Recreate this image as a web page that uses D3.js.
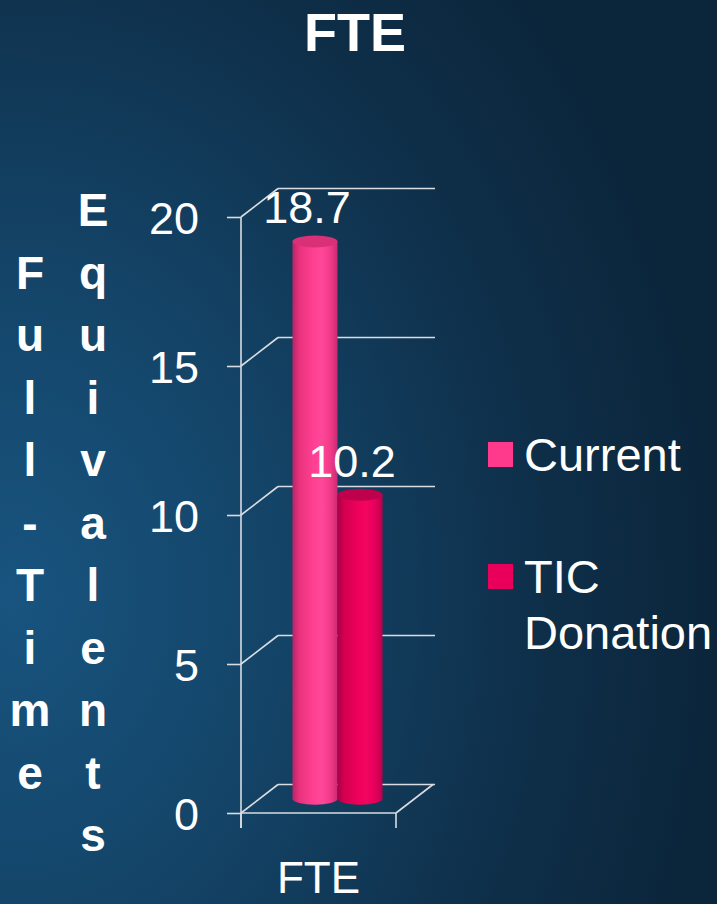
<!DOCTYPE html>
<html>
<head>
<meta charset="utf-8">
<script src="https://cdn.jsdelivr.net/npm/d3@7"></script>
<style>
  html, body { margin: 0; padding: 0; background: #0c2740; }
  svg { display: block; }
  text { font-family: "Liberation Sans", Arial, sans-serif; fill: #ffffff; }
</style>
</head>
<body>
<svg id="chart" width="717" height="904"></svg>
<script>
const chartTitle = "FTE";
const categories = ["FTE"];
const seriesNames = ["Current", "TIC Donation"];
const seriesValues = [18.7, 10.2];
const seriesColors = ["#ff3a8c", "#e8005a"];
const yTicks = [0, 5, 10, 15, 20];
const axisTitleCols = ["Full-Time", "Equivalents"];

const W = 717, H = 904;
const svg = d3.select("#chart");
const defs = svg.append("defs");

// background
const bg = defs.append("radialGradient").attr("id", "bg")
  .attr("cx", 0.02).attr("cy", 0.66).attr("r", 1.0)
  .attr("gradientUnits", "objectBoundingBox");
bg.append("stop").attr("offset", "0").attr("stop-color", "#18547f");
bg.append("stop").attr("offset", "0.35").attr("stop-color", "#144569");
bg.append("stop").attr("offset", "0.75").attr("stop-color", "#0e2e48");
bg.append("stop").attr("offset", "1").attr("stop-color", "#0b253a");
svg.append("rect").attr("width", W).attr("height", H).attr("fill", "url(#bg)");

// 3D geometry
const DX = 37, DY = -28.5;
const y = d3.scaleLinear().domain([0, 20]).range([813, 217]);
const x = d3.scaleBand().domain(categories).range([241, 396]);
const x1 = d3.scaleBand().domain(seriesNames)
  .range([x(categories[0]) + DX / 2 + 33, x(categories[0]) + x.bandwidth() + DX / 2 - 32]);

const grid = svg.append("g").attr("stroke", "#d9dde2").attr("stroke-width", 1.6).attr("fill", "none");
const xL = x.range()[0], xR = x.range()[1];
yTicks.forEach(t => {
  grid.append("line").attr("x1", xL + DX).attr("x2", xR + DX + 2)
    .attr("y1", y(t) + DY).attr("y2", y(t) + DY);
  grid.append("line").attr("x1", xL).attr("y1", y(t))
    .attr("x2", xL + DX).attr("y2", y(t) + DY);
});
grid.append("line").attr("x1", xL).attr("x2", xR).attr("y1", y(0)).attr("y2", y(0));
grid.append("line").attr("x1", xR).attr("y1", y(0)).attr("x2", xR + DX).attr("y2", y(0) + DY);
[xL, xR].forEach(v => grid.append("line").attr("x1", v).attr("x2", v).attr("y1", y(0)).attr("y2", y(0) + 15));

// y axis
const yAxis = d3.axisLeft(y).tickValues(yTicks).tickSize(14).tickSizeOuter(0).tickPadding(28);
const ax = svg.append("g").attr("transform", `translate(${xL},0)`).call(yAxis);
ax.select(".domain").remove();
ax.append("line").attr("x1", 0).attr("x2", 0).attr("y1", y(20)).attr("y2", y(0) + 15);
ax.selectAll("line").attr("stroke", "#d9dde2").attr("stroke-width", 1.6);
ax.selectAll("text").attr("font-size", 45).attr("fill", "#ffffff")
  .attr("font-family", "Liberation Sans, Arial, sans-serif").attr("dy", "0.36em");

// cylinder gradients
const shades = [
  ["#b82468", "#e8327e", "#ff3f91", "#ff4898", "#f03a88", "#c92b70"],
  ["#a80048", "#d4004f", "#ee005c", "#f2045f", "#e4005a", "#b8004c"]
];
seriesNames.forEach((s, i) => {
  const g = defs.append("linearGradient").attr("id", "cyl" + i).attr("x1", 0).attr("x2", 1).attr("y1", 0).attr("y2", 0);
  const offs = [0, 0.15, 0.45, 0.65, 0.85, 1];
  offs.forEach((o, k) => g.append("stop").attr("offset", o).attr("stop-color", shades[i][k]));
});
const topColors = ["#d93078", "#bf004c"];

const RY = 6;
const bars = svg.append("g");
seriesNames.forEach((s, i) => {
  const cx = x1(s) + x1.bandwidth() / 2;
  const rx = x1.bandwidth() / 2;
  const yTop = y(seriesValues[i]) + DY / 2;
  const yBot = y(0) + DY / 2;
  const left = cx - rx, right = cx + rx;
  bars.append("path")
    .attr("d", `M${left},${yTop} L${left},${yBot} A${rx},${RY} 0 0 0 ${right},${yBot} L${right},${yTop} Z`)
    .attr("fill", `url(#cyl${i})`);
  bars.append("ellipse").attr("cx", cx).attr("cy", yTop).attr("rx", rx).attr("ry", RY)
    .attr("fill", topColors[i]);
  svg.append("text").attr("x", cx - 8).attr("y", yTop - 18)
    .attr("text-anchor", "middle").attr("font-size", 45)
    .text(seriesValues[i]);
});

// title
svg.append("text").attr("x", 355).attr("y", 51).attr("text-anchor", "middle")
  .attr("font-size", 54).attr("font-weight", "bold").text(chartTitle);

// category label
svg.append("text").attr("x", x(categories[0]) + x.bandwidth() / 2).attr("y", 893)
  .attr("text-anchor", "middle").attr("font-size", 44).text(categories[0]);

// axis title, stacked letters
const colX = [30, 93];
const step = 62.5, centerY = 522.5;
axisTitleCols.forEach((word, c) => {
  const letters = word.split("");
  const n = letters.length;
  letters.forEach((ch, k) => {
    const cy = centerY + (k - (n - 1) / 2) * step;
    svg.append("text").attr("x", colX[c]).attr("y", cy + 16)
      .attr("text-anchor", "middle").attr("font-size", 46).attr("font-weight", "bold")
      .text(ch);
  });
});

// legend
const legend = svg.append("g");
const legendRows = [[seriesNames[0]], ["TIC", "Donation"]];
const legendY = [442, 564];
seriesNames.forEach((s, i) => {
  legend.append("rect").attr("x", 488).attr("y", legendY[i]).attr("width", 25).attr("height", 25)
    .attr("fill", seriesColors[i]);
  legendRows[i].forEach((line, k) => {
    legend.append("text").attr("x", 524).attr("y", legendY[i] + 29 + k * 56)
      .attr("font-size", 47).text(line);
  });
});
</script>
</body>
</html>
